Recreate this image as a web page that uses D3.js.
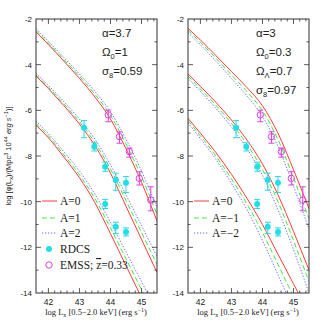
<!DOCTYPE html>
<html>
<head>
<meta charset="utf-8">
<script src="https://cdn.jsdelivr.net/npm/d3@7.9.0/dist/d3.min.js"></script>
<style>
  body { margin: 0; background: #fff; }
  svg { display: block; }
</style>
</head>
<body>
<div id="viz"></div>
<script>
// Data
const lxGrid = [41.6, 42, 42.5, 43, 43.5, 44, 44.5, 45, 45.5];

// left panel: alpha=3.7, Omega0=1  (A = 0, 1, 2)
const leftTopA0 = [-2.56, -3.12, -3.85, -4.6, -5.42, -6.38, -7.68, -9.15, -10.85];
const leftTopA1 = [-2.5, -3.06, -3.78, -4.51, -5.3, -6.22, -7.47, -8.9, -10.55];
const leftTopA2 = [-2.42, -2.98, -3.69, -4.41, -5.17, -6.06, -7.26, -8.65, -10.25];
const leftMidA0 = [-4.5, -5.05, -5.8, -6.6, -7.55, -8.75, -10.2, -11.65, -13.1];
const leftMidA1 = [-4.45, -4.99, -5.72, -6.5, -7.42, -8.57, -9.95, -11.35, -12.75];
const leftMidA2 = [-4.38, -4.91, -5.62, -6.38, -7.27, -8.38, -9.7, -11.05, -12.4];
const leftLowA0 = [-6.65, -7.2, -8.05, -8.95, -10.05, -11.4, -12.8, -14.2, -15.6];
const leftLowA1 = [-6.58, -7.12, -7.95, -8.82, -9.87, -11.15, -12.5, -13.85, -15.2];
const leftLowA2 = [-6.48, -7.02, -7.82, -8.66, -9.67, -10.9, -12.2, -13.5, -14.8];

// right panel: alpha=3, Omega0=0.3, OmegaL=0.7  (A = 0, -1, -2)
const rightTopA0 = [-2.41, -2.92, -3.6, -4.3, -5.0, -5.8, -7.0, -8.6, -10.3];
const rightTopA1 = [-2.5, -3.02, -3.72, -4.45, -5.18, -6.02, -7.28, -8.95, -10.75];
const rightTopA2 = [-2.6, -3.13, -3.85, -4.6, -5.37, -6.26, -7.58, -9.32, -11.2];
const rightMidA0 = [-4.4, -4.95, -5.65, -6.42, -7.3, -8.35, -9.7, -11.3, -13.0];
const rightMidA1 = [-4.5, -5.06, -5.78, -6.57, -7.48, -8.6, -10.0, -11.7, -13.5];
const rightMidA2 = [-4.6, -5.17, -5.91, -6.73, -7.67, -8.85, -10.35, -12.1, -14.0];
const rightLowA0 = [-6.35, -7.0, -7.85, -8.8, -9.85, -11.0, -12.3, -13.6, -14.9];
const rightLowA1 = [-6.45, -7.12, -8.0, -9.0, -10.1, -11.35, -12.75, -14.15, -15.5];
const rightLowA2 = [-6.55, -7.24, -8.15, -9.2, -10.35, -11.7, -13.2, -14.7, -16.1];

// RDCS points (filled cyan)
const rdcsLx  = [43.15, 43.48, 43.83, 44.17, 44.5, 43.83, 44.17, 44.5];
const rdcsPhi = [-6.76, -7.59, -8.47, -9.05, -9.17, -10.1, -11.1, -11.33];
const rdcsHi  = [-6.45, -7.42, -8.27, -8.75, -8.9, -9.9, -10.9, -11.15];
const rdcsLo  = [-7.2, -7.78, -8.67, -9.5, -9.6, -10.3, -11.4, -11.5];

// EMSS points (open magenta)
const emssLx  = [43.93, 44.29, 44.61, 44.93, 45.3];
const emssPhi = [-6.2, -7.15, -7.81, -8.98, -9.93];
const emssHi  = [-5.99, -6.94, -7.65, -8.69, -9.35];
const emssLo  = [-6.5, -7.44, -8.05, -9.27, -10.4];

const xTicks = [42, 43, 44, 45];
const yTicks = [-2, -4, -6, -8, -10, -12, -14];

const leftLegend = ["A=0", "A=1", "A=2"];
const rightLegend = ["A=0", "A=\u22121", "A=\u22122"];

const colors = ["#ff3b3b", "#3ee83e", "#6a6aff"];
const dashes = [null, "5,3", "1.3,1.7"];

const W = 327, H = 327;
const svg = d3.select("#viz").append("svg").attr("width", W).attr("height", H);

const y = d3.scaleLinear().domain([-2, -14]).range([19, 293]);

const panels = [
  { x0: 36, curves: [[leftTopA0, leftTopA1, leftTopA2], [leftMidA0, leftMidA1, leftMidA2], [leftLowA0, leftLowA1, leftLowA2]],
    legend: leftLegend,
    notes: [["\u03b1", "", "=3.7"], ["\u03a9", "0", "=1"], ["\u03c3", "8", "=0.59"]], noteX: 102 },
  { x0: 188, curves: [[rightTopA0, rightTopA1, rightTopA2], [rightMidA0, rightMidA1, rightMidA2], [rightLowA0, rightLowA1, rightLowA2]],
    legend: rightLegend,
    notes: [["\u03b1", "", "=3"], ["\u03a9", "0", "=0.3"], ["\u03a9", "\u039b", "=0.7"], ["\u03c3", "8", "=0.97"]], noteX: 256 }
];

panels.forEach((p, pi) => {
  const x = d3.scaleLinear().domain([41.6, 45.5]).range([p.x0, p.x0 + 121]);
  const g = svg.append("g");

  const clipId = "clip" + pi;
  svg.append("clipPath").attr("id", clipId).append("rect")
    .attr("x", p.x0).attr("y", 19).attr("width", 121).attr("height", 274);

  // curves
  const line = d3.line().x(d => x(d[0])).y(d => y(d[1])).curve(d3.curveMonotoneX);
  const cg = g.append("g").attr("clip-path", `url(#${clipId})`);
  p.curves.forEach(group => {
    group.forEach((vals, k) => {
      cg.append("path")
        .datum(lxGrid.map((lx, i) => [lx, vals[i]]))
        .attr("fill", "none")
        .attr("stroke", colors[k])
        .attr("stroke-width", 1)
        .attr("stroke-dasharray", dashes[k])
        .attr("d", line);
    });
  });

  // error bars + points
  const drawErr = (lx, hi, lo, col) => {
    lx.forEach((v, i) => {
      g.append("line").attr("x1", x(v)).attr("x2", x(v)).attr("y1", y(hi[i])).attr("y2", y(lo[i]))
        .attr("stroke", col).attr("stroke-width", 1);
      [hi[i], lo[i]].forEach(e => {
        g.append("line").attr("x1", x(v) - 3).attr("x2", x(v) + 3).attr("y1", y(e)).attr("y2", y(e))
          .attr("stroke", col).attr("stroke-width", 1);
      });
    });
  };
  drawErr(rdcsLx, rdcsHi, rdcsLo, "#2ad8e0");
  drawErr(emssLx, emssHi, emssLo, "#e040e0");
  g.selectAll(".rdcs").data(rdcsLx).join("circle")
    .attr("cx", d => x(d)).attr("cy", (d, i) => y(rdcsPhi[i])).attr("r", 3)
    .attr("fill", "#1fe0e8");
  g.selectAll(".emss").data(emssLx).join("circle")
    .attr("cx", d => x(d)).attr("cy", (d, i) => y(emssPhi[i])).attr("r", 3.2)
    .attr("fill", "none").attr("stroke", "#e040e0").attr("stroke-width", 1);

  // frame
  g.append("rect").attr("x", p.x0).attr("y", 19).attr("width", 121).attr("height", 274)
    .attr("fill", "none").attr("stroke", "#333").attr("stroke-width", 1);

  // ticks
  const tk = g.append("g").attr("stroke", "#333").attr("stroke-width", 0.8);
  d3.range(41.8, 45.45, 0.2).forEach(v => {
    const major = Math.abs(v - Math.round(v)) < 1e-6;
    const len = major ? 5 : 2.5;
    tk.append("line").attr("x1", x(v)).attr("x2", x(v)).attr("y1", 293).attr("y2", 293 - len);
    tk.append("line").attr("x1", x(v)).attr("x2", x(v)).attr("y1", 19).attr("y2", 19 + len);
  });
  d3.range(-3, -14, -1).forEach(v => {
    const major = v % 2 === 0;
    const len = major ? 5 : 2.5;
    tk.append("line").attr("x1", p.x0).attr("x2", p.x0 + len).attr("y1", y(v)).attr("y2", y(v));
    tk.append("line").attr("x1", p.x0 + 121).attr("x2", p.x0 + 121 - len).attr("y1", y(v)).attr("y2", y(v));
  });

  // tick labels
  g.selectAll(".xt").data(xTicks).join("text")
    .attr("x", d => x(d)).attr("y", 305).attr("text-anchor", "middle")
    .attr("font-family", "Liberation Sans, Arial, sans-serif").attr("font-size", 8.5).attr("fill", "#222")
    .text(d => d);
  g.selectAll(".yt").data(yTicks).join("text")
    .attr("x", p.x0 - 4).attr("y", d => y(d) + 3).attr("text-anchor", "end")
    .attr("font-family", "Liberation Sans, Arial, sans-serif").attr("font-size", 8).attr("fill", "#222")
    .text(d => String(d));

  // x axis title
  const xt = g.append("text").attr("x", p.x0 + 60).attr("y", 315).attr("text-anchor", "middle")
    .attr("font-family", "Liberation Serif, Times New Roman, serif").attr("font-size", 8.5).attr("fill", "#222");
  xt.append("tspan").text("log L");
  xt.append("tspan").attr("font-size", 6).attr("dy", 2).text("x");
  xt.append("tspan").attr("dy", -2).text(" [0.5\u22122.0 keV] (erg s");
  xt.append("tspan").attr("font-size", 6).attr("dy", -3).text("\u22121");
  xt.append("tspan").attr("dy", 3).text(")");

  // notes
  p.notes.forEach((n, i) => {
    const t = g.append("text").attr("x", p.noteX).attr("y", 37 + i * 19)
      .attr("font-family", "Liberation Sans, Arial, sans-serif").attr("font-size", 11.5).attr("fill", "#222");
    t.append("tspan").text(n[0]);
    if (n[1]) t.append("tspan").attr("font-size", 7.5).attr("dy", 3).text(n[1]);
    t.append("tspan").attr("dy", n[1] ? -3 : 0).text(n[2]);
  });

  // legend
  const legY = [201, 218, 233];
  p.legend.forEach((lab, k) => {
    g.append("line").attr("x1", p.x0 + 6).attr("x2", p.x0 + 21).attr("y1", legY[k]).attr("y2", legY[k])
      .attr("stroke", colors[k]).attr("stroke-width", 1).attr("stroke-dasharray", dashes[k]);
    g.append("text").attr("x", p.x0 + 24).attr("y", legY[k] + 4)
      .attr("font-family", "Liberation Serif, Times New Roman, serif").attr("font-size", 11.5).attr("fill", "#222")
      .text(lab);
  });
  if (pi === 0) {
    g.append("circle").attr("cx", p.x0 + 13).attr("cy", 249).attr("r", 3).attr("fill", "#1fe0e8");
    g.append("text").attr("x", p.x0 + 24).attr("y", 253)
      .attr("font-family", "Liberation Serif, Times New Roman, serif").attr("font-size", 11.5).attr("fill", "#222")
      .text("RDCS");
    g.append("circle").attr("cx", p.x0 + 13).attr("cy", 265).attr("r", 3.2)
      .attr("fill", "none").attr("stroke", "#e040e0");
    const et = g.append("text").attr("x", p.x0 + 24).attr("y", 269)
      .attr("font-family", "Liberation Serif, Times New Roman, serif").attr("font-size", 11.5).attr("fill", "#222");
    et.append("tspan").text("EMSS; ");
    et.append("tspan").attr("text-decoration", "overline").text("z");
    et.append("tspan").text("=0.33");
  }
});

// y axis title
const yl = svg.append("text").attr("transform", "translate(11,156) rotate(-90)").attr("text-anchor", "middle")
  .attr("font-family", "Liberation Sans, Arial, sans-serif").attr("font-size", 7.5).attr("fill", "#222");
yl.append("tspan").text("log  [\u03c6(L");
yl.append("tspan").attr("font-size", 5.5).attr("dy", 2).text("x");
yl.append("tspan").attr("dy", -2).text(")/(Mpc");
yl.append("tspan").attr("font-size", 5.5).attr("dy", -3).text("3");
yl.append("tspan").attr("dy", 3).text(" 10");
yl.append("tspan").attr("font-size", 5.5).attr("dy", -3).text("44");
yl.append("tspan").attr("dy", 3).attr("font-style", "italic").text(" erg s");
yl.append("tspan").attr("font-size", 5.5).attr("dy", -3).attr("font-style", "italic").text("\u22121");
yl.append("tspan").attr("dy", 3).text(")]");
</script>
</body>
</html>
